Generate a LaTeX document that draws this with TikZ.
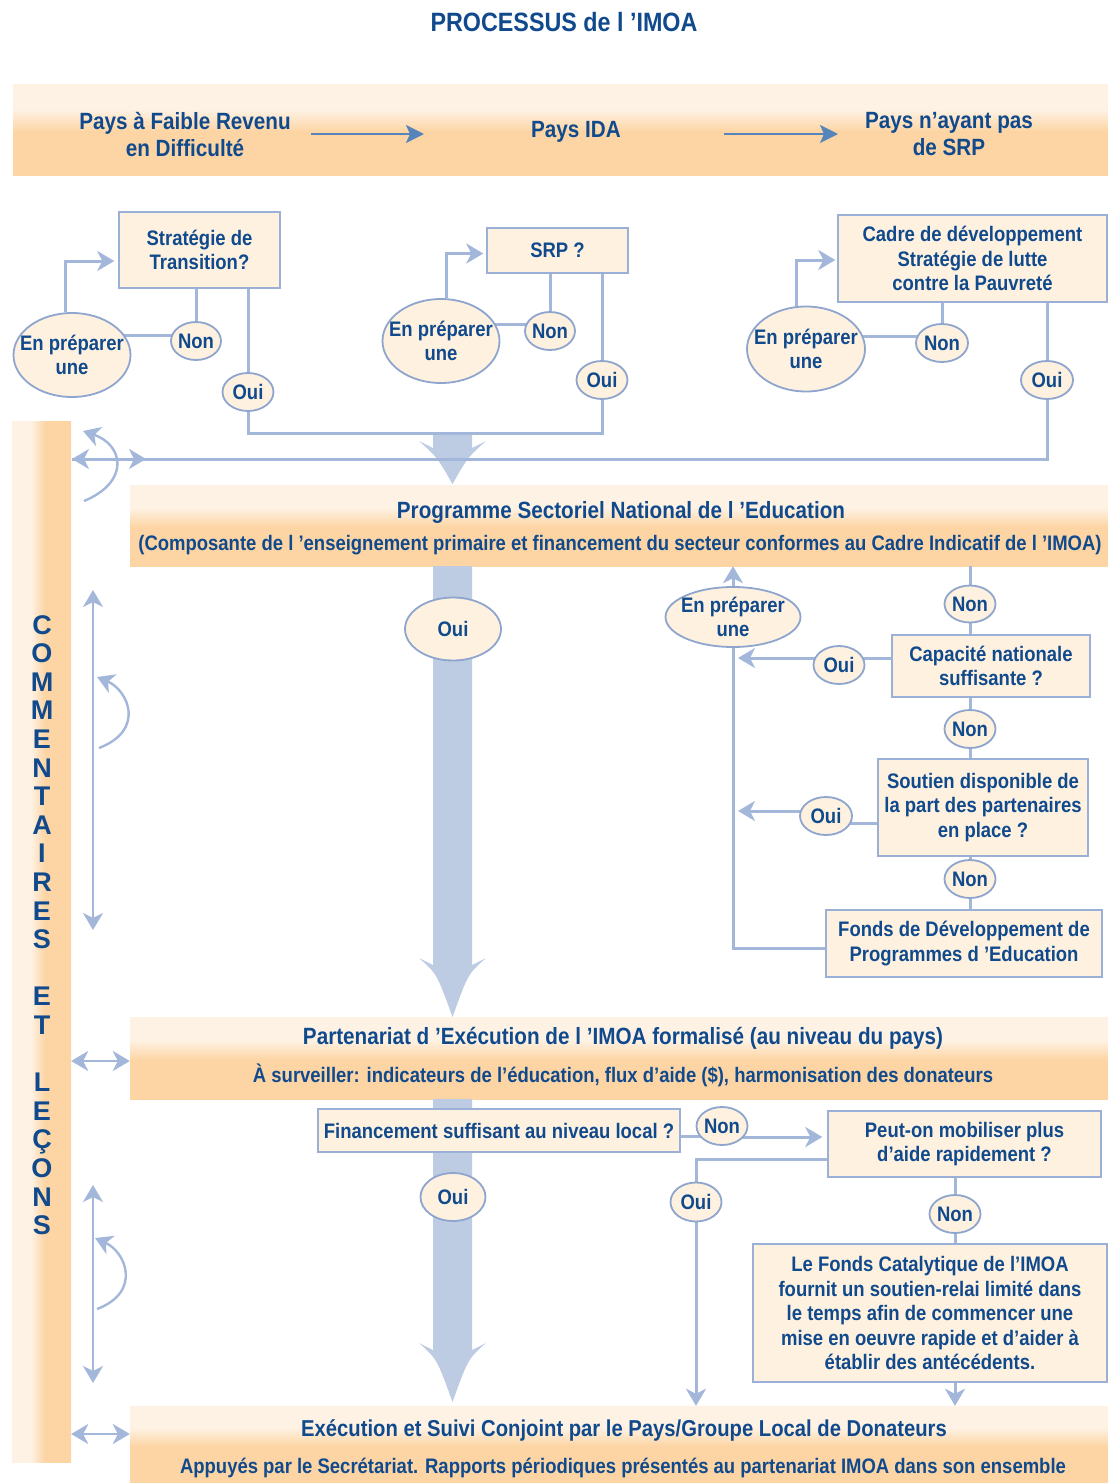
\documentclass[tikz,border=0pt]{standalone}
\usepackage{fontspec}
\setmainfont{Liberation Sans}[FakeStretch=0.88]
\newfontfamily\vfont{Liberation Sans}
\usetikzlibrary{shapes.geometric,arrows.meta,calc}
\definecolor{txt}{HTML}{104A8C}
\definecolor{lineb}{HTML}{A3B7DA}
\definecolor{thickb}{HTML}{BDCBE3}
\definecolor{cream}{HTML}{FEF1E0}
\definecolor{boxb}{HTML}{9BB0D6}
\definecolor{ellb}{HTML}{8EA5CE}
\definecolor{lightband}{HTML}{FEF2E4}
\definecolor{peach}{HTML}{FDD5A4}
\definecolor{darkarr}{HTML}{5884BC}
\pgfdeclareverticalshading{bandsh}{100bp}{color(0bp)=(peach); color(49bp)=(peach); color(61bp)=(lightband); color(100bp)=(lightband)}
\pgfdeclarehorizontalshading{barsh}{100bp}{color(0bp)=(lightband); color(41bp)=(lightband); color(53bp)=(peach); color(100bp)=(peach)}
\pgfdeclarelayer{back}
\pgfdeclarelayer{mid}
\pgfsetlayers{back,mid,main}
\newcommand\szA{\fontsize{21}{24.5}\selectfont}
\newcommand\szB{\fontsize{23.5}{27}\selectfont}
\newcommand\szS{\fontsize{21}{24}\selectfont}
\newcommand\szT{\fontsize{26.5}{30}\selectfont}
\newcommand\thickarr[3]{%
  \fill[thickb] (433,#1) -- (433,{#2+7}) -- (419,#2) .. controls (437,{#2+16}) .. (452.5,#3)
     .. controls (468,{#2+16}) .. (486,#2) -- (472,{#2+7}) -- (472,#1) -- cycle;}
\begin{document}
\begin{tikzpicture}[x=1pt,y=-1pt,
  box/.style={draw=boxb, line width=1.4pt, fill=cream, align=center, inner sep=0pt, font=\bfseries\szA, text=txt},
  ell/.style={ellipse, draw=ellb, line width=1.8pt, fill=cream, inner sep=0pt},
  etxt/.style={font=\bfseries\szA, text=txt, align=center, inner sep=0pt},
  lbl/.style={font=\bfseries\szB, text=txt, align=center, inner sep=0pt},
  lbls/.style={font=\bfseries\szS, text=txt, align=center, inner sep=0pt},
  vlet/.style={font=\vfont\bfseries\fontsize{27}{27}\selectfont, text=txt, inner sep=0pt},
  band/.style={shade, shading=bandsh, inner sep=0pt, draw=none},
  conn/.style={draw=lineb, line width=3pt},
  arr/.style={conn, -{Stealth[length=17pt,width=20pt,inset=5pt]}},
  arrc/.style={draw=lineb, line width=2.4pt, -{Stealth[length=17pt,width=20pt,inset=5pt]}},
  arrboth/.style={draw=lineb, line width=2.6pt, {Stealth[length=17pt,width=20pt,inset=5pt]}-{Stealth[length=17pt,width=20pt,inset=5pt]}},
  darr/.style={draw=darkarr, line width=2.2pt, -{Stealth[length=18pt,width=18pt,inset=4pt]}}
]
\useasboundingbox (0,0) rectangle (1108,1483);

% ---------- backgrounds ----------
\begin{pgfonlayer}{back}
\node[band, minimum width=1095pt, minimum height=91pt] (top) at (560.5,129.5) {};
\node[band, minimum width=978pt, minimum height=81pt] (psne) at (619,525.5) {};
\node[band, minimum width=978pt, minimum height=82pt] (part) at (619,1058) {};
\node[band, minimum width=978pt, minimum height=77pt] (bot) at (619,1444.5) {};
\node[shade, shading=barsh, inner sep=0pt, minimum width=59pt, minimum height=1041pt] (comm) at (41.5,941.5) {};
\end{pgfonlayer}

% ---------- title and banner ----------
\node[font=\bfseries\szT, text=txt, inner sep=0pt] (title) at (564,22) {PROCESSUS de l ’IMOA};
\node[lbl] (t1) at (185,134.5) {Pays à Faible Revenu\\en Difficulté};
\node[lbl] (t2) at (576,132) {Pays IDA};
\node[lbl] (t3) at (949,134.5) {Pays n’ayant pas\\de SRP};
\coordinate (a1s) at (311,134);
\coordinate (a1e) at (424,134);
\coordinate (a2s) at (724,134);
\coordinate (a2e) at (838,134);

% ---------- top decision boxes ----------
\node[box, minimum width=161pt, minimum height=76pt] (strat) at (199.5,250) {Stratégie de\\Transition?};
\node[box, minimum width=141pt, minimum height=45pt] (srp) at (557.5,250.5) {SRP ?};
\node[box, minimum width=269pt, minimum height=87pt] (cadre) at (972.5,258.5) {Cadre de développement\\Stratégie de lutte\\contre la Pauvreté};

\node[ell, minimum width=117pt, minimum height=84pt, label={[etxt]center:{En préparer\\une}}] (E1) at (72,355) {};
\node[ell, minimum width=50pt, minimum height=38pt, label={[etxt]center:Non}] (N1) at (196,341) {};
\node[ell, minimum width=51pt, minimum height=38pt, label={[etxt]center:Oui}] (O1) at (248,392) {};
\node[ell, minimum width=117pt, minimum height=84pt, label={[etxt]center:{En préparer\\une}}] (E2) at (441,341) {};
\node[ell, minimum width=50pt, minimum height=38pt, label={[etxt]center:Non}] (N2) at (550,331) {};
\node[ell, minimum width=51pt, minimum height=38pt, label={[etxt]center:Oui}] (O2) at (602,380) {};
\node[ell, minimum width=118pt, minimum height=85pt, label={[etxt]center:{En préparer\\une}}] (E3) at (806,349) {};
\node[ell, minimum width=52pt, minimum height=38pt, label={[etxt]center:Non}] (N3) at (942,343) {};
\node[ell, minimum width=52pt, minimum height=38pt, label={[etxt]center:Oui}] (O3) at (1047,380) {};
\coordinate (topbar) at (452.5,433);
\coordinate (barL) at (72,459);
\coordinate (fb1) at (146,459);

% ---------- bands text ----------
\node[lbl] (psneT) at (621,512) {Programme Sectoriel National de l ’Education};
\node[lbls] (psneS) at (620,545) {(Composante de l ’enseignement primaire et financement du secteur conformes au Cadre Indicatif de l ’IMOA)};
\node[lbl] (partT) at (623,1038) {Partenariat d ’Exécution de l ’IMOA formalisé (au niveau du pays)};
\node[lbls] (partS) at (623,1075) {À surveiller: indicateurs de l’éducation, flux d’aide (\$), harmonisation des donateurs};
\node[lbl, font=\bfseries\fontsize{23}{27}\selectfont] (botT) at (624,1430) {Exécution et Suivi Conjoint par le Pays/Groupe Local de Donateurs};
\node[lbls] (botS) at (623,1468) {Appuyés par le Secrétariat. Rapports périodiques présentés au partenariat IMOA dans son ensemble};

% ---------- middle section ----------
\node[ell, minimum width=96pt, minimum height=63pt, label={[etxt]center:Oui}] (OuiBig) at (453,629) {};
\node[ell, minimum width=135pt, minimum height=60pt, label={[etxt]center:{En préparer\\une}}] (EM) at (733,617) {};
\node[ell, minimum width=51pt, minimum height=37pt, label={[etxt]center:Non}] (NonC1) at (970,604) {};
\node[box, minimum width=198pt, minimum height=62pt] (cap) at (991,666) {Capacité nationale\\suffisante ?};
\node[ell, minimum width=51pt, minimum height=38pt, label={[etxt]center:Oui}] (OuiC) at (839,665) {};
\node[ell, minimum width=51pt, minimum height=38pt, label={[etxt]center:Non}] (NonC2) at (970,729) {};
\node[box, minimum width=210pt, minimum height=97pt] (sout) at (983,807.5) {Soutien disponible de\\la part des partenaires\\en place ?};
\node[ell, minimum width=52pt, minimum height=38pt, label={[etxt]center:Oui}] (OuiS) at (826,816) {};
\node[ell, minimum width=51pt, minimum height=38pt, label={[etxt]center:Non}] (NonC3) at (970,879) {};
\node[box, minimum width=276pt, minimum height=67pt] (fonds) at (964,943.5) {Fonds de Développement de\\Programmes d ’Education};

% ---------- lower section ----------
\node[box, minimum width=362pt, minimum height=43pt] (fin) at (499,1130.5) {Financement suffisant au niveau local ?};
\node[ell, minimum width=51pt, minimum height=38pt, label={[etxt]center:Non}] (NonF) at (722,1126) {};
\node[box, minimum width=273pt, minimum height=66pt] (peut) at (964.5,1144) {Peut-on mobiliser plus\\d’aide rapidement ?};
\node[ell, minimum width=65pt, minimum height=48pt, label={[etxt]center:Oui}] (OuiB) at (453,1197) {};
\node[ell, minimum width=51pt, minimum height=39pt, label={[etxt]center:Oui}] (OuiP) at (696,1202) {};
\node[ell, minimum width=51pt, minimum height=38pt, label={[etxt]center:Non}] (NonP) at (955,1214) {};
\node[box, minimum width=354pt, minimum height=138pt] (lefonds) at (930,1313) {Le Fonds Catalytique de l’IMOA\\fournit un soutien-relai limité dans\\le temps afin de commencer une\\mise en oeuvre rapide et d’aider à\\établir des antécédents.};

% ---------- vertical letters ----------
\foreach \l/\i in {C/0,O/1,M/2,M/3,E/4,N/5,T/6,A/7,I/8,R/9,E/10,S/11,E/13,T/14,L/16,E/17,Ç/18,O/19,N/20,S/21}
  \node[vlet, anchor=base] (v\i) at (42,{624+28.6*\i+10}) {\l};

% ---------- connectors ----------
\begin{pgfonlayer}{mid}
\thickarr{433}{441}{484}
\thickarr{566}{958}{1017}
\thickarr{1099}{1343}{1402}

\draw[darr] (a1s) -- (a1e);
\draw[darr] (a2s) -- (a2e);

\draw[arr] ($(E1.north)+(-7,0)$) |- ($(strat.west)+(-4,11)$);
\draw[conn] (N1.north |- strat.south) -- (N1.north);
\draw[conn] ($(N1.center)+(0,-6)$) -- ($(N1.center -| E1.center)+(0,-6)$);
\draw[conn] (O1.north |- strat.south) -- (O1.north);
\draw[conn] (O1.south) |- (topbar);

\draw[arr] ($(E2.north)+(5,0)$) |- ($(srp.west)+(-3,3)$);
\draw[conn] (N2.north |- srp.south) -- (N2.north);
\draw[conn] ($(N2.center)+(0,-7)$) -- ($(N2.center -| E2.center)+(0,-7)$);
\draw[conn] (O2.north |- srp.south) -- (O2.north);
\draw[conn] (O2.south) |- (topbar);

\draw[arr] ($(E3.north)+(-10,0)$) |- ($(cadre.west)+(-2,1.5)$);
\draw[conn] (N3.north |- cadre.south) -- (N3.north);
\draw[conn] ($(N3.center)+(0,-7)$) -- ($(N3.center -| E3.center)+(0,-7)$);
\draw[conn] (O3.north |- cadre.south) -- (O3.north);
\draw[arr] (O3.south) |- (barL);
\draw[arr] (barL) -- (fb1);
\draw[arrc] (84,501) .. controls (130,482) and (124,445) .. (83,431);

\draw[arr] (EM.north) -- (EM.north |- psne.south);
\draw[conn] (NonC1.north |- psne.south) -- (NonC1.north);
\draw[conn] (NonC1.south) -- (NonC1.south |- cap.north);
\draw[conn] (NonC2.north |- cap.south) -- (NonC2.north);
\draw[conn] (NonC2.south) -- (NonC2.south |- sout.north);
\draw[conn] (NonC3.north |- sout.south) -- (NonC3.north);
\draw[conn] (NonC3.south) -- (NonC3.south |- fonds.north);
\draw[conn] ($(OuiC.center)+(0,-7)$) -- ($(OuiC.center -| cap.west)+(0,-7)$);
\draw[arr] ($(OuiC.center)+(0,-7)$) -- ($(OuiC.center -| EM.south)+(5,-7)$);
\draw[conn] ($(OuiS.center)+(0,7)$) -- ($(OuiS.center -| sout.west)+(0,7)$);
\draw[arr] ($(OuiS.center)+(0,-5)$) -- ($(OuiS.center -| EM.south)+(5,-5)$);
\draw[conn] (EM.south) |- ($(fonds.west)+(0,4.5)$);

\draw[conn] ($(NonF.center)+(0,10)$) -- ($(NonF.center -| fin.east)+(0,10)$);
\draw[arr] ($(NonF.center)+(0,11)$) -- ($(NonF.center -| peut.west)+(-5,11)$);
\draw[conn] ($(peut.west)+(0,15)$) -| (OuiP.north);
\draw[arr] (OuiP.south) -- (OuiP.south |- bot.north);
\draw[conn] (NonP.north |- peut.south) -- (NonP.north);
\draw[conn] (NonP.south) -- (NonP.south |- lefonds.north);
\draw[arr] (NonP.south |- lefonds.south) -- (NonP.south |- bot.north);

\draw[arrboth] (93,590) -- (93,930);
\draw[arrc] (99,748) .. controls (146,730) and (128,690) .. (97,677);
\draw[arrboth] (93,1185) -- (93,1383);
\draw[arrc] (97,1309) .. controls (142,1292) and (126,1252) .. (95,1238);
\draw[arrboth] ($(part.west)+(0,3)$) -- ($(part.west -| comm.east)+(0,3)$);
\draw[arrboth] ($(bot.west)+(0,-10.5)$) -- ($(bot.west -| comm.east)+(0,-10.5)$);
\end{pgfonlayer}
\end{tikzpicture}
\end{document}
